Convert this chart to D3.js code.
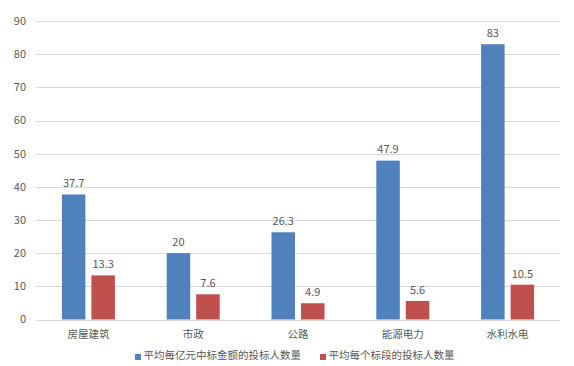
<!DOCTYPE html>
<html><head><meta charset="utf-8">
<script src="https://cdn.jsdelivr.net/npm/d3@7"></script>
<style>body{margin:0;background:#fff;} svg{display:block;}</style>
</head><body>
<script>
const categories = ["房屋建筑", "市政", "公路", "能源电力", "水利水电"];
const seriesNames = ["平均每亿元中标金额的投标人数量", "平均每个标段的投标人数量"];
const perBillion = [37.7, 20, 26.3, 47.9, 83];
const perSection = [13.3, 7.6, 4.9, 5.6, 10.5];
const yTicks = [0, 10, 20, 30, 40, 50, 60, 70, 80, 90];
const colors = ["#4F81BD", "#C0504D"];

(function () {
const W = 574, H = 366;
const svg = d3.select("body").append("svg").attr("width", W).attr("height", H);
const font = "'Noto Sans CJK SC', 'Noto Sans', sans-serif";
const textColor = "#595959";

const pLeft = 36, pRight = 560, pTop = 21, pBottom = 319.5;
const y = d3.scaleLinear().domain([0, 90]).range([pBottom, pTop]);
const x0 = d3.scaleBand().domain(categories).range([pLeft, pRight]);
const x1 = d3.scaleBand().domain([0, 1]).range([0, x0.bandwidth()]).paddingInner(0.203).paddingOuter(0.878);

svg.append("g").selectAll("line").data(yTicks).join("line")
  .attr("x1", pLeft).attr("x2", pRight)
  .attr("y1", d => Math.round(y(d)) + 0.5).attr("y2", d => Math.round(y(d)) + 0.5)
  .attr("stroke", "#D9D9D9").attr("stroke-width", 1);

svg.append("g").selectAll("text").data(yTicks).join("text")
  .attr("x", 26).attr("y", d => y(d)).attr("dy", "0.35em")
  .attr("text-anchor", "end").attr("font-family", font).attr("font-size", 11)
  .attr("fill", textColor).text(d => d);

const data = categories.map((c, i) => ({c, vals: [perBillion[i], perSection[i]]}));

const groups = svg.append("g").selectAll("g").data(data).join("g")
  .attr("transform", d => `translate(${x0(d.c)},0)`);

groups.selectAll("rect").data(d => d.vals.map((v, k) => ({v, k}))).join("rect")
  .attr("x", d => x1(d.k)).attr("width", x1.bandwidth())
  .attr("y", d => y(d.v)).attr("height", d => y(0) - y(d.v))
  .attr("fill", d => colors[d.k]);

groups.selectAll("text.val").data(d => d.vals.map((v, k) => ({v, k}))).join("text")
  .attr("class", "val")
  .attr("x", d => x1(d.k) + x1.bandwidth() / 2).attr("y", d => y(d.v) - 11).attr("dy", "0.35em")
  .attr("text-anchor", "middle").attr("font-family", font).attr("font-size", 11)
  .attr("fill", textColor).text(d => d.v);

svg.append("line").attr("x1", pLeft).attr("x2", pRight)
  .attr("y1", Math.round(y(0)) + 0.5).attr("y2", Math.round(y(0)) + 0.5)
  .attr("stroke", "#D9D9D9");

svg.append("g").selectAll("text").data(categories).join("text")
  .attr("x", d => x0(d) + x0.bandwidth() / 2).attr("y", 334).attr("dy", "0.35em")
  .attr("text-anchor", "middle").attr("font-family", font).attr("font-size", 10.5)
  .attr("fill", textColor).text(d => d);

const legendX = [135, 320];
const lg = svg.append("g").selectAll("g").data(seriesNames).join("g")
  .attr("transform", (d, i) => `translate(${legendX[i]},355)`);
lg.append("rect").attr("x", 0).attr("y", -1).attr("width", 6).attr("height", 6).attr("fill", (d, i) => colors[i]);
lg.append("text").attr("x", 8.5).attr("y", 0).attr("dy", "0.35em")
  .attr("font-family", font).attr("font-size", 10.5).attr("fill", textColor).text(d => d);
})();
</script>
</body></html>
